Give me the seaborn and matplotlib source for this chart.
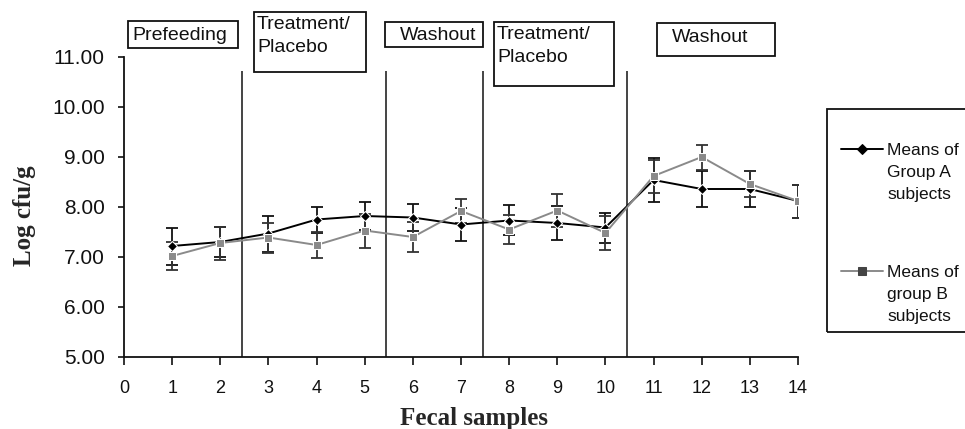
import pandas as pd
import seaborn as sns
import matplotlib.pyplot as plt
from matplotlib.patches import Rectangle

sns.set_theme(style='white')
plt.rcParams['font.family'] = ['Liberation Sans', 'DejaVu Sans']

# ## Data
samples = list(range(1, 15))
group_a = [7.22, 7.30, 7.47, 7.75, 7.82, 7.79, 7.65, 7.73, 7.68, 7.59, 8.54, 8.36, 8.36, 8.12]
group_a_err = [0.37, 0.30, 0.36, 0.26, 0.28, 0.27, 0.33, 0.30, 0.34, 0.30, 0.44, 0.36, 0.36, 0.33]
group_b = [7.02, 7.28, 7.39, 7.24, 7.53, 7.40, 7.92, 7.55, 7.93, 7.48, 8.62, 9.00, 8.46, 8.12]
group_b_err = [0.28, 0.33, 0.30, 0.27, 0.34, 0.30, 0.24, 0.29, 0.33, 0.34, 0.33, 0.25, 0.26, 0.33]
group_labels = ['Means of\nGroup A\nsubjects', 'Means of\ngroup B\nsubjects']

phase_bounds = [2.45, 5.45, 7.45, 10.45]
phase_names = ['Prefeeding', 'Treatment/\nPlacebo', 'Washout', 'Treatment/\nPlacebo', 'Washout']
x_ticks = list(range(0, 15))
y_ticks = [5, 6, 7, 8, 9, 10, 11]

df = pd.concat([
    pd.DataFrame({'sample': samples, 'value': group_a, 'err': group_a_err, 'group': group_labels[0]}),
    pd.DataFrame({'sample': samples, 'value': group_b, 'err': group_b_err, 'group': group_labels[1]}),
])

# ## Plot
W, H = 965, 429
fig = plt.figure(figsize=(W / 100, H / 100), dpi=100)
ax = fig.add_axes([124 / W, 1 - 357 / H, 674 / W, 300 / H])

line_col = {group_labels[0]: '#000000', group_labels[1]: '#8a8a8a'}
mark_col = {group_labels[0]: '#000000', group_labels[1]: '#444444'}
err_col = {group_labels[0]: '#111111', group_labels[1]: '#333333'}

for g, sub in df.groupby('group', sort=False):
    ax.errorbar(sub['sample'], sub['value'], yerr=sub['err'], fmt='none',
                ecolor=err_col[g], elinewidth=1.3, capsize=4.3, capthick=1.3, zorder=2)

sns.lineplot(data=df, x='sample', y='value', hue='group', style='group',
             markers={group_labels[0]: 'D', group_labels[1]: 's'}, dashes=False,
             palette=line_col, linewidth=1.4, markersize=5.5, ax=ax, zorder=3)
for ln, g in zip(ax.lines[-2:], group_labels):
    ln.set_markerfacecolor(mark_col[g])
    ln.set_markeredgecolor(mark_col[g])

ax.vlines(phase_bounds, 5, 10.72, colors='#444444', linewidth=1.4, zorder=1)

ax.set_xlim(0, 14)
ax.set_ylim(5, 11)
ax.set_xticks(x_ticks)
ax.set_yticks(y_ticks)
ax.set_yticklabels([f'{v:.2f}' for v in y_ticks])
ax.tick_params(axis='y', labelsize=15, length=4, width=1.2, direction='out', pad=10, left=True, colors='#111111')
ax.tick_params(axis='x', labelsize=13, length=5.5, width=1.2, direction='out', pad=11, bottom=True, colors='#111111')
sns.despine(ax=ax)
for s in ['left', 'bottom']:
    ax.spines[s].set_color('#111111')
    ax.spines[s].set_linewidth(1.3)

ax.set_xlabel('Fecal samples', family='Liberation Serif', fontweight='bold', fontsize=18)
ax.xaxis.set_label_coords(0.52, -0.168)
ax.set_ylabel('Log cfu/g', family='Liberation Serif', fontweight='bold', fontsize=18)
ax.yaxis.set_label_coords(-0.13, 0.47)

# legend: frame + entries
handles, _ = ax.get_legend_handles_labels()
ax.get_legend().remove()
fig.patches.append(Rectangle((827 / W, 1 - 332 / H), 200 / W, 223 / H, transform=fig.transFigure,
                             fill=False, edgecolor='#111111', linewidth=1.3))
leg = fig.legend(handles[-2:], group_labels, loc='upper left', bbox_to_anchor=(841 / W, 1 - 143 / H),
                 frameon=False, fontsize=12.5, borderpad=0, borderaxespad=0, handlelength=2.4,
                 handletextpad=0.25, labelspacing=3.6)
for col in leg._legend_handle_box.get_children():
    for item in col.get_children():
        item.align = 'top'
for t in leg.get_texts():
    t.set_color('#111111')
    t.set_linespacing(1.6)

# phase label boxes (pixel boxes: x0, x1, y0, y1; text anchor)
boxes = [(128, 238, 21, 48), (254, 366, 12, 72), (385, 483, 22, 47), (494, 614, 22, 86), (657, 775, 23, 56)]
text_pos = [(132, 35), (257, 16), (400, 35), (497, 26), (672, 38)]
for name, (x0, x1, y0, y1), (tx, ty) in zip(phase_names, boxes, text_pos):
    fig.patches.append(Rectangle((x0 / W, 1 - y1 / H), (x1 - x0) / W, (y1 - y0) / H,
                                 transform=fig.transFigure, fill=False, edgecolor='#111111', linewidth=1.3))
    if '\n' in name:
        fig.text(tx / W, 1 - ty / H, name, ha='left', va='top', fontsize=14, linespacing=1.45, color='#111111')
    else:
        fig.text(tx / W, 1 - ty / H, name, ha='left', va='center', fontsize=14, color='#111111')

fig.savefig('out.png', dpi=100)
